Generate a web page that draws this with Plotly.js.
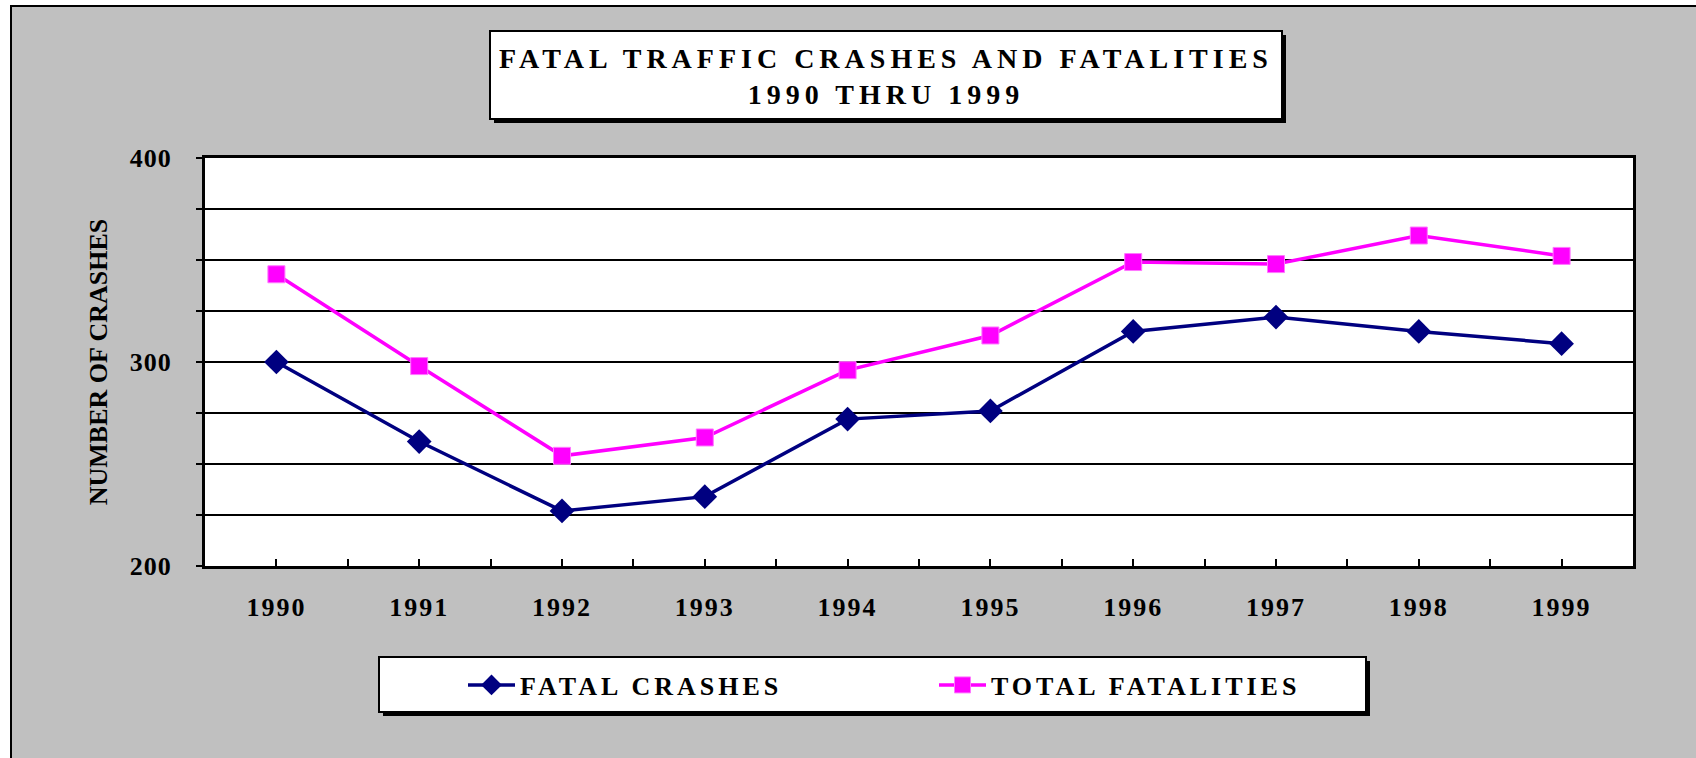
<!DOCTYPE html>
<html><head><meta charset="utf-8">
<script src="https://cdn.plot.ly/plotly-3.0.1.min.js"></script>
<style>
html,body{margin:0;padding:0;background:#fff;width:1696px;height:758px;overflow:hidden}
#frame{position:absolute;left:10px;top:5px;width:1684px;height:751px;border-left:2px solid #000;border-top:2px solid #000;background:#c0c0c0}
#chart{width:1684px;height:751px}
#chart .gtitle{letter-spacing:5px}
#chart .legendtext{letter-spacing:4px}
#chart .xtick text{letter-spacing:2px}
#chart .ytick text{letter-spacing:1px}
</style></head><body>
<div id="frame"><div id="chart"></div></div>
<script>
const years = [1990, 1991, 1992, 1993, 1994, 1995, 1996, 1997, 1998, 1999];
const yearLabels = ['1990', '1991', '1992', '1993', '1994', '1995', '1996', '1997', '1998', '1999'];
const fatalCrashes = [300, 261, 227, 234, 272, 276, 315, 322, 315, 309];
const totalFatalities = [343, 298, 254, 263, 296, 313, 349, 348, 362, 352];
const yTickVals = [200, 300, 400];
const yTickLabels = ['200', '300', '400'];
const seriesNames = ['FATAL CRASHES', 'TOTAL FATALITIES'];
const titleText = 'FATAL TRAFFIC CRASHES AND FATALITIES<br>1990 THRU 1999';
const yTitle = 'NUMBER OF CRASHES';

// page-pixel helpers (plot area spans x 205..1633, y 158..566 on the page)
const PL = 205, PR = 1633, PT = 158, PB = 566;
const px = X => (X - PL) / (PR - PL);
const py = Y => (PB - Y) / (PB - PT);

const FONT = 'Liberation Serif, Times New Roman, serif';

const traces = [
  {x: years, y: fatalCrashes, name: seriesNames[0], type: 'scatter', mode: 'lines+markers',
   line: {color: '#000080', width: 3.5},
   marker: {symbol: 'diamond', size: 19, color: '#000080'}},
  {x: years, y: totalFatalities, name: seriesNames[1], type: 'scatter', mode: 'lines+markers',
   line: {color: '#ff00ff', width: 3.5},
   marker: {symbol: 'square', size: 17, color: '#ff00ff', line: {color: '#ff77ff', width: 1}}}
];

const boxShapes = (x0, y0, x1, y1, off) => [
  {type: 'rect', xref: 'paper', yref: 'paper', x0: px(x0 + off), x1: px(x1 + off), y0: py(y1 + off), y1: py(y0 + off),
   fillcolor: '#000', line: {width: 0}},
  {type: 'rect', xref: 'paper', yref: 'paper', x0: px(x0), x1: px(x1), y0: py(y1), y1: py(y0),
   fillcolor: '#fff', line: {color: '#000', width: 2}}
];

const layout = {
  width: 1684, height: 751,
  margin: {l: 193, r: 63, t: 151, b: 192},
  paper_bgcolor: '#c0c0c0',
  plot_bgcolor: '#ffffff',
  showlegend: true,
  title: {text: titleText, xref: 'container', yref: 'container',
          x: (886 - 12) / 1684, xanchor: 'center', y: 1 - (68 - 7) / 751, yanchor: 'middle',
          font: {family: FONT, size: 28, color: '#000', weight: 'bold'}},
  xaxis: {
    range: [1989.5, 1999.5], tickmode: 'array', tickvals: years, ticktext: yearLabels,
    ticks: 'inside', ticklen: 7, tickwidth: 2, tickcolor: '#000',
    minor: {tickmode: 'linear', tick0: 1989.5, dtick: 1, ticks: 'inside', ticklen: 7, tickwidth: 2, tickcolor: '#000'},
    showgrid: false, zeroline: false, showline: true, mirror: true, linecolor: '#000', linewidth: 3,
    ticklabelstandoff: 16,
    tickfont: {family: FONT, size: 26, color: '#000', weight: 'bold'}, fixedrange: true
  },
  yaxis: {
    range: [200, 400], tickmode: 'array', tickvals: yTickVals, ticktext: yTickLabels,
    ticks: 'outside', ticklen: 6, tickwidth: 1.5, tickcolor: '#000',
    showgrid: true, gridcolor: '#000', gridwidth: 2,
    minor: {dtick: 25, tick0: 200, showgrid: true, gridcolor: '#000', gridwidth: 2, ticks: 'outside', ticklen: 6, tickwidth: 1.5, tickcolor: '#000'},
    zeroline: false, showline: true, mirror: true, linecolor: '#000', linewidth: 3,
    ticklabelstandoff: 19,
    tickfont: {family: FONT, size: 26, color: '#000', weight: 'bold'},
    title: {text: yTitle, standoff: 18, font: {family: FONT, size: 26, color: '#000', weight: 'bold'}},
    fixedrange: true
  },
  legend: {orientation: 'h', x: px(463), xanchor: 'left', y: py(685), yanchor: 'middle',
           bgcolor: 'rgba(0,0,0,0)', borderwidth: 0, itemwidth: 47, entrywidth: 409, entrywidthmode: 'pixels',
           font: {family: FONT, size: 26, color: '#000', weight: 'bold'}},
  shapes: [].concat(boxShapes(490, 31, 1282, 119, 4), boxShapes(379, 657, 1366, 712, 4))
};

Plotly.newPlot('chart', traces, layout, {displayModeBar: false, staticPlot: true});
</script>
</body></html>
